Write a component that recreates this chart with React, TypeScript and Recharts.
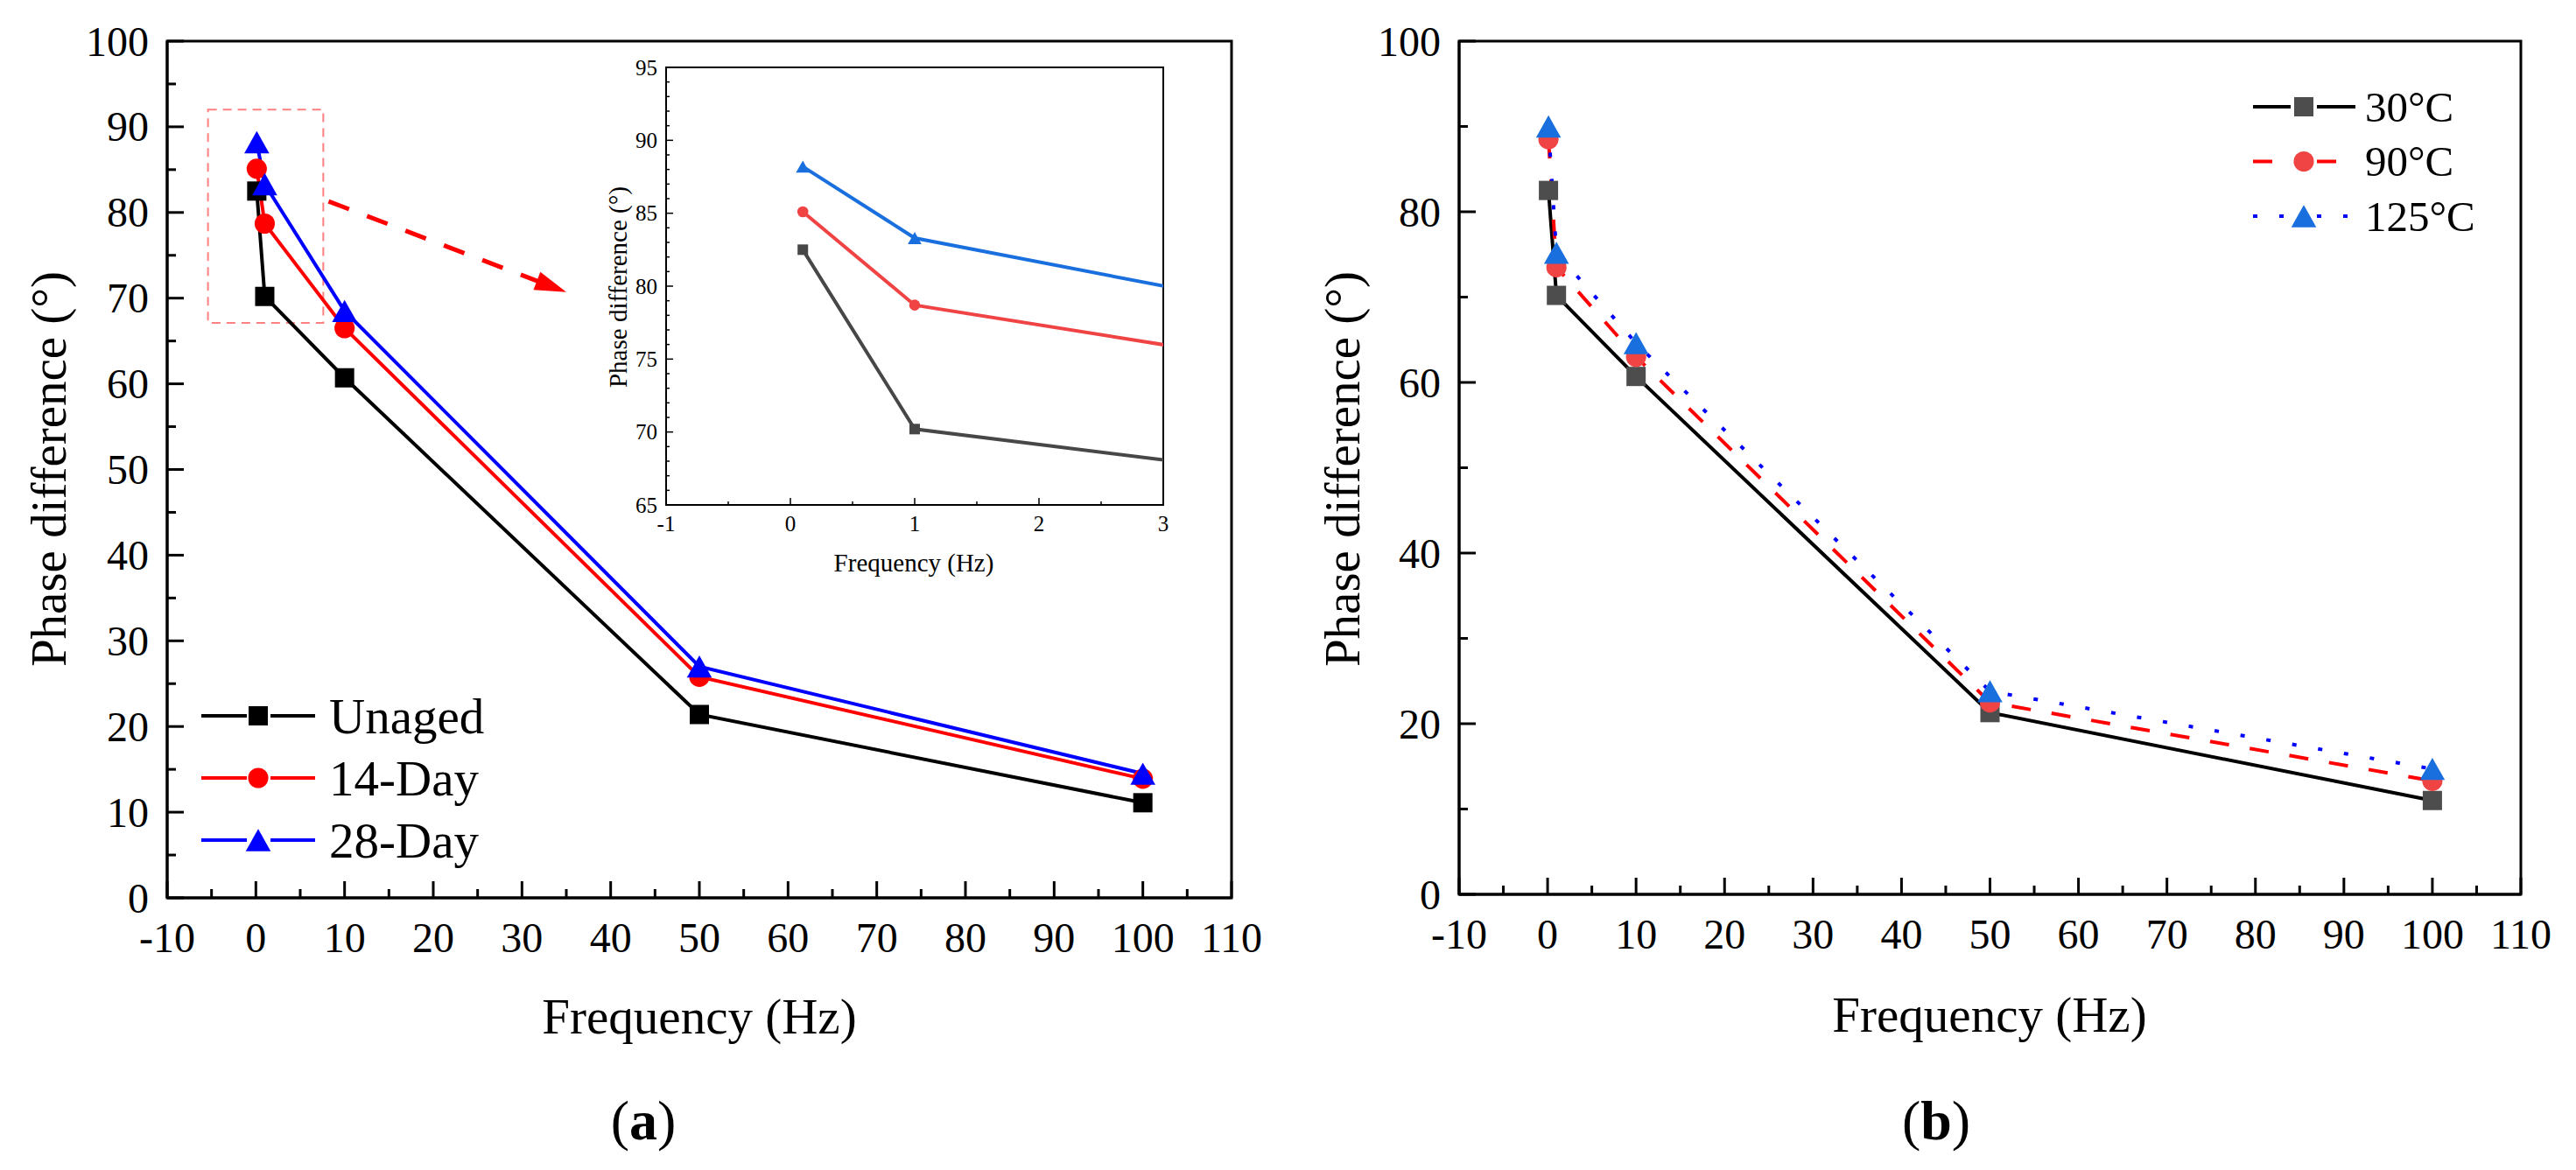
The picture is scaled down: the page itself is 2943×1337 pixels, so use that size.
import { LineChart, Line, XAxis, YAxis, ReferenceArea, ReferenceLine } from "recharts"

const FONT = "'Times New Roman', 'Liberation Serif', serif"

// frequency of each measurement (Hz)
const FREQ = [0.1, 1, 10, 50, 100]

// (a) ageing time
const AGE_NAMES = ["Unaged", "14-Day", "28-Day"]
const UNAGED = [82.5, 70.2, 60.7, 21.4, 11.1]
const DAY_14 = [85.1, 78.7, 66.5, 25.8, 13.9]
const DAY_28 = [88.2, 83.3, 68.5, 27.0, 14.5]

// (b) temperature
const TEMP_NAMES = ["30°C", "90°C", "125°C"]
const T_30 = [82.5, 70.2, 60.7, 21.3, 11.0]
const T_90 = [88.5, 73.5, 63.0, 22.5, 13.3]
const T_125 = [90.0, 75.2, 64.6, 23.8, 14.7]

// ticks
const X_MAJOR = [-10, 0, 10, 20, 30, 40, 50, 60, 70, 80, 90, 100, 110]
const X_MINOR = [-5, 5, 15, 25, 35, 45, 55, 65, 75, 85, 95, 105]
const A_Y_MAJOR = [0, 10, 20, 30, 40, 50, 60, 70, 80, 90, 100]
const A_Y_MINOR = [5, 15, 25, 35, 45, 55, 65, 75, 85, 95]
const B_Y_MAJOR = [0, 20, 40, 60, 80, 100]
const B_Y_MINOR = [10, 30, 50, 70, 90]
const IN_X_MAJOR = [-1, 0, 1, 2, 3]
const IN_X_MINOR = [-0.5, 0.5, 1.5, 2.5]
const IN_Y_MAJOR = [65, 70, 75, 80, 85, 90, 95]
const IN_Y_MINOR = [66, 67, 68, 69, 71, 72, 73, 74, 76, 77, 78, 79, 81, 82, 83, 84, 86, 87, 88, 89, 91, 92, 93, 94]

const dataA = FREQ.map((f, i) => ({ f, unaged: UNAGED[i], d14: DAY_14[i], d28: DAY_28[i] }))
const dataB = FREQ.map((f, i) => ({ f, t30: T_30[i], t90: T_90[i], t125: T_125[i] }))

type Shape = "square" | "circle" | "triangle"

function Marker({ shape, cx, cy, s, fill }: { shape: Shape; cx: number; cy: number; s: number; fill: string }) {
  if (cx == null || cy == null) return <g />
  if (shape === "square") return <rect x={cx - s / 2} y={cy - s / 2} width={s} height={s} fill={fill} />
  if (shape === "circle") return <circle cx={cx} cy={cy} r={(s * 1.05) / 2} fill={fill} />
  const w = s * 1.3
  const h = s * 1.15
  return <polygon points={`${cx},${cy - h / 2} ${cx - w / 2},${cy + h / 2} ${cx + w / 2},${cy + h / 2}`} fill={fill} />
}

const dotOf = (shape: Shape, fill: string, s: number) => (p: any) =>
  <Marker key={p.index} shape={shape} cx={p.cx} cy={p.cy} s={s} fill={fill} />

type TickStyle = { major: number; minor: number; width: number; font: number; gap: number }
const MAIN_X: TickStyle = { major: 19, minor: 10, width: 3, font: 48, gap: 45 }
const MAIN_Y: TickStyle = { major: 19, minor: 10, width: 3, font: 48, gap: 21 }
const INS_X: TickStyle = { major: 8, minor: 4, width: 1.5, font: 25, gap: 21 }
const INS_Y: TickStyle = { major: 8, minor: 4, width: 1.5, font: 25, gap: 10 }

const xTick = (majors: number[], s: TickStyle) => (p: any) => {
  const v = p.payload.value
  const big = majors.includes(v)
  return (
    <g>
      <line x1={p.x} x2={p.x} y1={p.y} y2={p.y - (big ? s.major : s.minor)} stroke="#000" strokeWidth={s.width} />
      {big && (
        <text x={p.x} y={p.y + s.gap} textAnchor="middle" dominantBaseline="central" fontSize={s.font} fontFamily={FONT} fill="#000">
          {v}
        </text>
      )}
    </g>
  )
}

const yTick = (majors: number[], s: TickStyle) => (p: any) => {
  const v = p.payload.value
  const big = majors.includes(v)
  return (
    <g>
      <line x1={p.x} x2={p.x + (big ? s.major : s.minor)} y1={p.y} y2={p.y} stroke="#000" strokeWidth={s.width} />
      {big && (
        <text x={p.x - s.gap} y={p.y} textAnchor="end" dominantBaseline="central" fontSize={s.font} fontFamily={FONT} fill="#000">
          {v}
        </text>
      )}
    </g>
  )
}

// dashed arrow from the zoom box to the inset
const arrowShape = (p: any) => {
  const { x1, y1, x2, y2 } = p
  const ang = Math.atan2(y2 - y1, x2 - x1)
  const hl = 36
  const hw = 11
  const bx = x2 - hl * Math.cos(ang)
  const by = y2 - hl * Math.sin(ang)
  const nx = -Math.sin(ang)
  const ny = Math.cos(ang)
  return (
    <g>
      <line x1={x1} y1={y1} x2={bx + 6 * Math.cos(ang)} y2={by + 6 * Math.sin(ang)} stroke="#ff0000" strokeWidth={5} strokeDasharray="25 22" />
      <polygon points={`${x2},${y2} ${bx + nx * hw},${by + ny * hw} ${bx - nx * hw},${by - ny * hw}`} fill="#ff0000" />
    </g>
  )
}

const AGE_STYLE = [
  { key: "unaged", color: "#000000", marker: "#000000", shape: "square" as Shape },
  { key: "d14", color: "#ff0000", marker: "#ff0000", shape: "circle" as Shape },
  { key: "d28", color: "#0000ff", marker: "#0000ff", shape: "triangle" as Shape },
]
const INSET_COLORS = ["#474747", "#f04444", "#1a6fdf"]
const TEMP_STYLE = [
  { key: "t30", color: "#000000", marker: "#4d4d4d", shape: "square" as Shape, dash: undefined as string | undefined },
  { key: "t90", color: "#ff0000", marker: "#f04444", shape: "circle" as Shape, dash: "22 24" },
  { key: "t125", color: "#0000ff", marker: "#1a6fdf", shape: "triangle" as Shape, dash: "5 25" },
]

function RotLabel({ x, y, size, text }: { x: number; y: number; size: number; text: string }) {
  return (
    <text x={x} y={y} transform={`rotate(-90 ${x} ${y})`} textAnchor="middle" dominantBaseline="central" fontSize={size}>
      {text}
    </text>
  )
}

export default function App() {
  return (
    <div style={{ position: "absolute", left: 0, top: 0, width: 2943, height: 1337, background: "#fff", fontFamily: FONT }}>
      {/* (a) */}
      <div style={{ position: "absolute", left: 0, top: 0 }}>
        <LineChart width={1480} height={1100} data={dataA} margin={{ top: 47, right: 73, bottom: 73, left: 190 }}>
          <XAxis dataKey="f" type="number" domain={[-10, 110]} ticks={[...X_MAJOR, ...X_MINOR]} interval={0} height={1}
            tickSize={0} tickMargin={0} axisLine={{ stroke: "#000", strokeWidth: 3 }} tickLine={false} tick={xTick(X_MAJOR, MAIN_X)} />
          <YAxis type="number" domain={[0, 100]} ticks={[...A_Y_MAJOR, ...A_Y_MINOR]} interval={0} width={1}
            tickSize={0} tickMargin={0} axisLine={{ stroke: "#000", strokeWidth: 3 }} tickLine={false} tick={yTick(A_Y_MAJOR, MAIN_Y)} />
          <ReferenceArea x1={-10} x2={110} y1={0} y2={100} fill="none" fillOpacity={0} stroke="#000" strokeWidth={3} />
          <ReferenceArea x1={-5.4} x2={7.6} y1={67.1} y2={92} fill="none" fillOpacity={0} stroke="#ff8080" strokeWidth={2} strokeDasharray="10 7" />
          <ReferenceLine segment={[{ x: 8.2, y: 81.3 }, { x: 35.0, y: 70.7 }]} shape={arrowShape} />
          {AGE_STYLE.map((s) => (
            <Line key={s.key} dataKey={s.key} stroke={s.color} strokeWidth={4} isAnimationActive={false}
              dot={dotOf(s.shape, s.marker, 22)} activeDot={false} />
          ))}
        </LineChart>
      </div>

      {/* inset of (a) */}
      <div style={{ position: "absolute", left: 661, top: 27 }}>
        <LineChart width={720} height={650} data={dataA} margin={{ top: 50, right: 52, bottom: 99, left: 99 }}>
          <XAxis dataKey="f" type="number" domain={[-1, 3]} allowDataOverflow ticks={[...IN_X_MAJOR, ...IN_X_MINOR]} interval={0} height={1}
            tickSize={0} tickMargin={0} axisLine={{ stroke: "#000", strokeWidth: 2 }} tickLine={false} tick={xTick(IN_X_MAJOR, INS_X)} />
          <YAxis type="number" domain={[65, 95]} allowDataOverflow ticks={[...IN_Y_MAJOR, ...IN_Y_MINOR]} interval={0} width={1}
            tickSize={0} tickMargin={0} axisLine={{ stroke: "#000", strokeWidth: 2 }} tickLine={false} tick={yTick(IN_Y_MAJOR, INS_Y)} />
          <ReferenceArea x1={-1} x2={3} y1={65} y2={95} fill="none" fillOpacity={0} stroke="#000" strokeWidth={2} />
          {AGE_STYLE.map((s, i) => (
            <Line key={s.key} dataKey={s.key} stroke={INSET_COLORS[i]} strokeWidth={4} isAnimationActive={false}
              dot={dotOf(s.shape, INSET_COLORS[i], 12)} activeDot={false} />
          ))}
        </LineChart>
      </div>

      {/* (b) */}
      <div style={{ position: "absolute", left: 1480, top: 0 }}>
        <LineChart width={1463} height={1100} data={dataB} margin={{ top: 47, right: 63, bottom: 77, left: 186 }}>
          <XAxis dataKey="f" type="number" domain={[-10, 110]} ticks={[...X_MAJOR, ...X_MINOR]} interval={0} height={1}
            tickSize={0} tickMargin={0} axisLine={{ stroke: "#000", strokeWidth: 3 }} tickLine={false} tick={xTick(X_MAJOR, MAIN_X)} />
          <YAxis type="number" domain={[0, 100]} ticks={[...B_Y_MAJOR, ...B_Y_MINOR]} interval={0} width={1}
            tickSize={0} tickMargin={0} axisLine={{ stroke: "#000", strokeWidth: 3 }} tickLine={false} tick={yTick(B_Y_MAJOR, MAIN_Y)} />
          <ReferenceArea x1={-10} x2={110} y1={0} y2={100} fill="none" fillOpacity={0} stroke="#000" strokeWidth={3} />
          {TEMP_STYLE.map((s) => (
            <Line key={s.key} dataKey={s.key} stroke={s.color} strokeWidth={4} strokeDasharray={s.dash} isAnimationActive={false}
              dot={dotOf(s.shape, s.marker, 22)} activeDot={false} />
          ))}
        </LineChart>
      </div>

      {/* titles and legends */}
      <svg width={2943} height={1337} style={{ position: "absolute", left: 0, top: 0, pointerEvents: "none", fontFamily: FONT }}>
        <RotLabel x={55} y={536} size={57} text="Phase difference (°)" />
        <text x={799} y={1161} textAnchor="middle" dominantBaseline="central" fontSize={57}>Frequency (Hz)</text>
        <text x={735} y={1280} textAnchor="middle" dominantBaseline="central" fontSize={64}>
          (<tspan fontWeight="bold">a</tspan>)
        </text>

        <RotLabel x={706} y={328} size={29} text="Phase difference (°)" />
        <text x={1044} y={643} textAnchor="middle" dominantBaseline="central" fontSize={29}>Frequency (Hz)</text>

        <RotLabel x={1533} y={536} size={57} text="Phase difference (°)" />
        <text x={2273} y={1159} textAnchor="middle" dominantBaseline="central" fontSize={57}>Frequency (Hz)</text>
        <text x={2212} y={1280} textAnchor="middle" dominantBaseline="central" fontSize={64}>
          (<tspan fontWeight="bold">b</tspan>)
        </text>

        {AGE_NAMES.map((name, i) => {
          const s = AGE_STYLE[i]
          const y = 818 + i * 71
          return (
            <g key={name}>
              <line x1={230} x2={282} y1={y} y2={y} stroke={s.color} strokeWidth={4} />
              <line x1={309} x2={360} y1={y} y2={y} stroke={s.color} strokeWidth={4} />
              <Marker shape={s.shape} cx={295} cy={y} s={22} fill={s.marker} />
              <text x={376} y={y} dominantBaseline="central" fontSize={57}>{name}</text>
            </g>
          )
        })}

        {TEMP_NAMES.map((name, i) => {
          const s = TEMP_STYLE[i]
          const y = 122 + i * 62.5
          return (
            <g key={name}>
              <line x1={2574} x2={2617} y1={y} y2={y} stroke={s.color} strokeWidth={4} strokeDasharray={s.dash} />
              <line x1={2647} x2={2691} y1={y} y2={y} stroke={s.color} strokeWidth={4} strokeDasharray={s.dash} />
              <Marker shape={s.shape} cx={2632} cy={y} s={22} fill={s.marker} />
              <text x={2702} y={y} dominantBaseline="central" fontSize={49}>{name}</text>
            </g>
          )
        })}
      </svg>
    </div>
  )
}
